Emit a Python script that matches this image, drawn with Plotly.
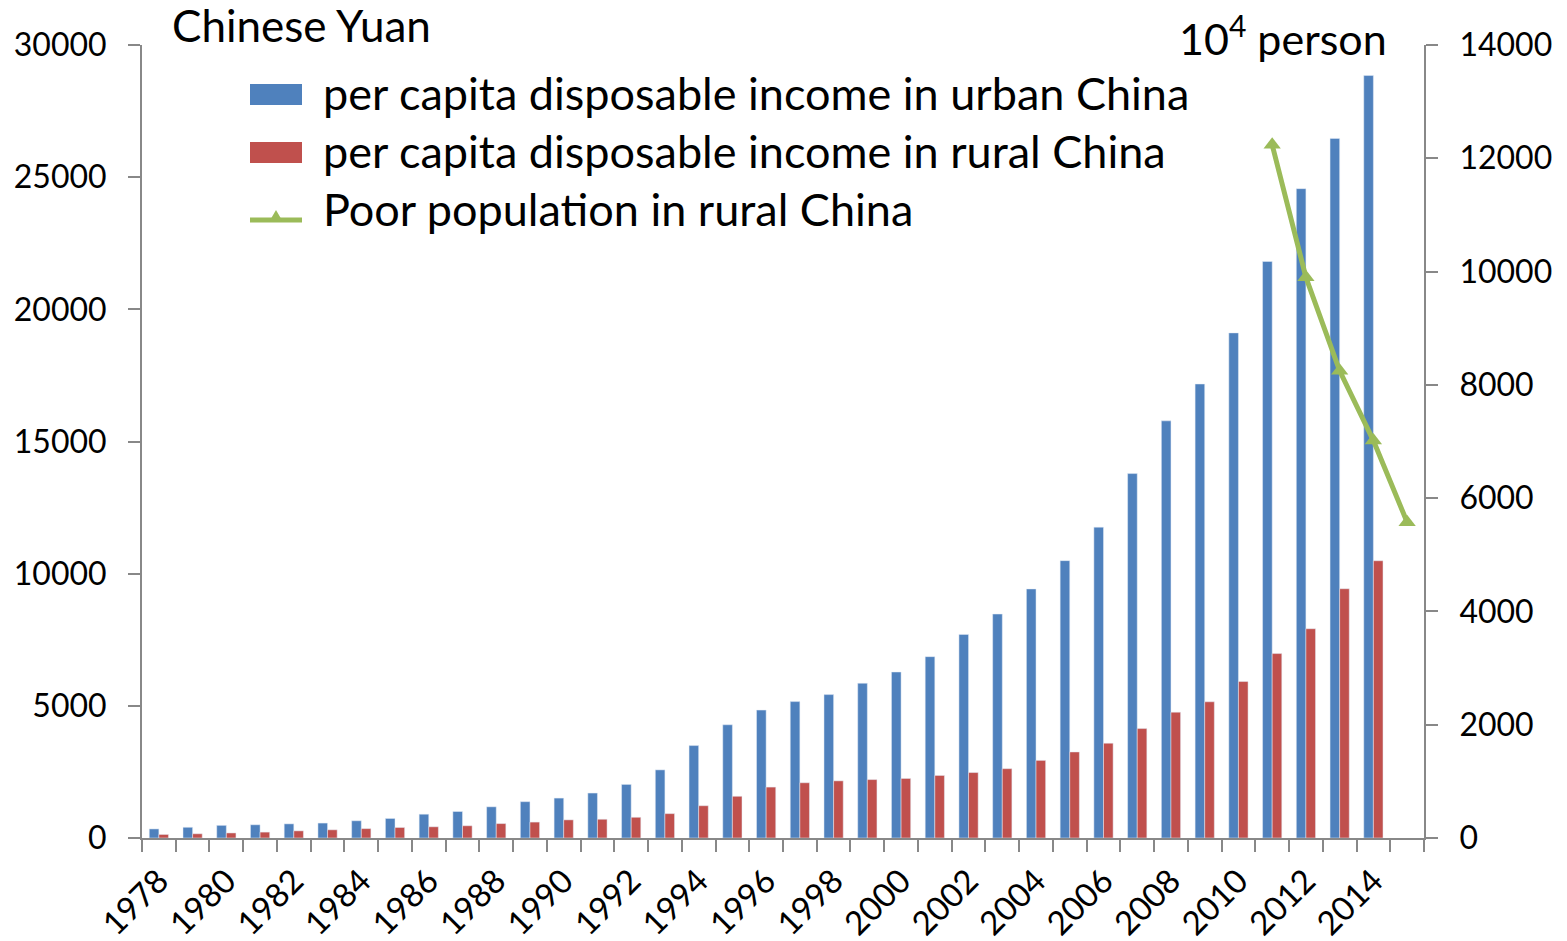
import plotly.graph_objects as go

years = list(range(1978, 2015))
poverty_years = [2011, 2012, 2013, 2014, 2015]

urban_income = [343, 405, 478, 500, 535, 565, 652, 739, 900, 1002, 1180, 1374, 1510,
                1701, 2027, 2577, 3496, 4283, 4839, 5160, 5425, 5854, 6280, 6860, 7703,
                8472, 9422, 10493, 11759, 13786, 15781, 17175, 19109, 21810, 24565,
                26467, 28844]
rural_income = [134, 160, 191, 223, 270, 310, 355, 398, 424, 463, 545, 602, 686, 709,
                784, 922, 1221, 1578, 1926, 2090, 2162, 2210, 2253, 2366, 2476, 2622,
                2936, 3255, 3587, 4140, 4761, 5153, 5919, 6977, 7917, 9430, 10489]
poor_population = [12238, 9899, 8249, 7017, 5575]

tick_years = list(range(1978, 2015, 2))
boundaries = [y - 0.5 for y in range(1978, 2017)]

names = ["per capita disposable income in urban China",
         "per capita disposable income in rural China",
         "Poor population in rural China"]
colors = ["#4F81BD", "#C0504D", "#9BBB59"]

FONT = "Lato"
AX = "#888888"
W, H = 1567, 941
L, R, T, B = 142, 143, 45, 103

fig = go.Figure()
fig.add_trace(go.Bar(x=years, y=urban_income, name=names[0], marker_color=colors[0],
                     showlegend=False))
fig.add_trace(go.Bar(x=years, y=rural_income, name=names[1], marker_color=colors[1],
                     showlegend=False))
fig.add_trace(go.Scatter(x=poverty_years, y=poor_population, name=names[2], yaxis="y2",
                         mode="lines+markers", line=dict(color=colors[2], width=5),
                         marker=dict(symbol="triangle-up", size=15, color=colors[2]),
                         showlegend=False))
# invisible trace so the boundary-tick axis is drawn
fig.add_trace(go.Scatter(x=[1978], y=[0], xaxis="x3", mode="markers",
                         marker=dict(opacity=0), showlegend=False, hoverinfo="skip"))

xr = [1977.5, 2015.5]
fig.update_layout(
    width=W, height=H,
    margin=dict(l=L, r=R, t=T, b=B, autoexpand=False),
    paper_bgcolor="white", plot_bgcolor="white",
    barmode="group", bargap=0.43, bargroupgap=0,
    font=dict(family=FONT, size=32, color="black"),
    xaxis=dict(range=xr, tickmode="array", tickvals=tick_years,
               ticktext=[str(y) for y in tick_years], tickangle=-45, ticks="",
               showline=False, showgrid=False, zeroline=False, automargin=False,
               ticklabelstandoff=16, tickfont=dict(size=33)),
    xaxis3=dict(range=xr, overlaying="x", anchor="y", tickmode="array",
                tickvals=boundaries, ticks="outside", ticklen=12, tickwidth=2,
                tickcolor=AX, showline=True, linecolor=AX, linewidth=2,
                showticklabels=False, showgrid=False, zeroline=False, automargin=False),
    yaxis=dict(range=[0, 30000], dtick=5000, tickformat="d", ticks="outside",
               ticklen=12, tickwidth=2, tickcolor=AX, showline=True, linecolor=AX,
               linewidth=2, showgrid=False, zeroline=False, automargin=False,
               ticklabelstandoff=15, tickfont=dict(size=32)),
    yaxis2=dict(range=[0, 14000], dtick=2000, tickformat="d", overlaying="y",
                side="right", ticks="outside", ticklen=12, tickwidth=2, tickcolor=AX,
                showline=True, linecolor=AX, linewidth=2, showgrid=False,
                zeroline=False, automargin=False, ticklabelstandoff=15,
                tickfont=dict(size=32)),
)

pw, ph = W - L - R, H - T - B


def px(x):
    return (x - L) / pw


def py(y):
    return (H - B - y) / ph


shapes = []
annotations = []
rows = [95, 153, 211]
for i, (nm, col) in enumerate(zip(names, colors)):
    yc = rows[i]
    if i < 2:
        shapes.append(dict(type="rect", xref="paper", yref="paper",
                           x0=px(250), x1=px(302), y0=py(yc + 10), y1=py(yc - 11),
                           fillcolor=col, line=dict(width=0)))
    else:
        shapes.append(dict(type="line", xref="paper", yref="paper",
                           x0=px(250), x1=px(302), y0=py(yc + 9), y1=py(yc + 9),
                           line=dict(color=col, width=5)))
        shapes.append(dict(type="path", xref="paper", yref="paper",
                           path=f"M {px(269)} {py(yc + 11)} L {px(283)} {py(yc + 11)} "
                                f"L {px(276)} {py(yc - 1)} Z",
                           fillcolor=col, line=dict(width=0)))
    annotations.append(dict(text=nm, xref="paper", yref="paper", x=px(321),
                            y=py(yc - 2), xanchor="left", yanchor="middle",
                            showarrow=False, font=dict(size=45, family=FONT)))

annotations.append(dict(text="Chinese Yuan", xref="paper", yref="paper",
                        x=px(170), y=py(25), xanchor="left", yanchor="middle",
                        showarrow=False, font=dict(size=44, family=FONT)))
annotations.append(dict(text="10<sup>4</sup> person", xref="paper", yref="paper",
                        x=px(1389), y=py(35), xanchor="right", yanchor="middle",
                        showarrow=False, font=dict(size=43, family=FONT)))

fig.update_layout(shapes=shapes, annotations=annotations)
fig.write_html("out.html")
